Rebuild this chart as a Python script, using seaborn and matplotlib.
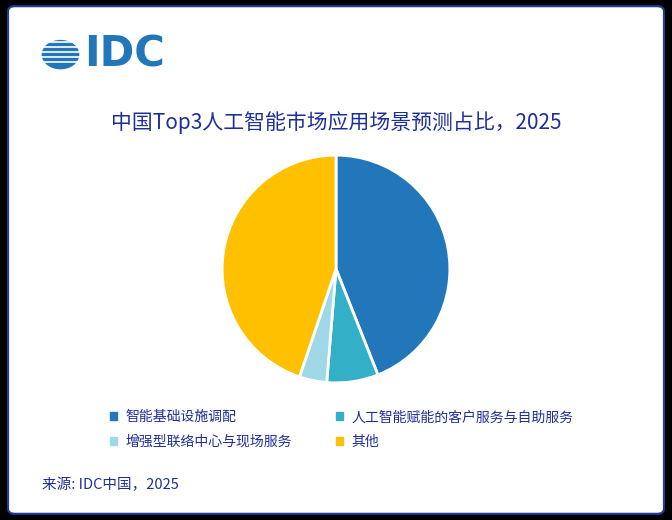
import matplotlib.pyplot as plt
import seaborn as sns
from matplotlib import font_manager as fm
from matplotlib.patches import FancyBboxPatch

cjk = [f.name for f in fm.fontManager.ttflist if "CJK" in f.name]
cjk_name = "Noto Sans CJK SC" if "Noto Sans CJK SC" in cjk else (cjk[0] if cjk else "DejaVu Sans")
sns.set_theme(style="white", font=cjk_name)
plt.rcParams["font.family"] = [cjk_name, "DejaVu Sans"]

categories = ["智能基础设施调配", "人工智能赋能的客户服务与自助服务",
              "增强型联络中心与现场服务", "其他"]
values = [44, 7.3, 3.9, 44.8]
colors = ["#2277bb", "#34afc8", "#9fd8e6", "#ffc000"]

fig = plt.figure(figsize=(6.72, 5.2), dpi=100)
fig.patch.set_facecolor("black")
bg = FancyBboxPatch((0.012, 0.012), 0.976, 0.976,
                    boxstyle="round,pad=0,rounding_size=0.01",
                    transform=fig.transFigure, facecolor="white",
                    edgecolor="#1f3fa0", linewidth=1.5, zorder=-10)
fig.patches.append(bg)

ax = fig.add_axes([336/672 - 115/672, 1 - (269 + 115)/520, 230/672, 230/520])
ax.pie(values, colors=colors, startangle=90, counterclock=False,
       wedgeprops=dict(edgecolor="white", linewidth=2))
ax.set_xlim(-1.01, 1.01)
ax.set_ylim(-1.01, 1.01)
ax.set_aspect("equal")

# IDC logo
fig.text(0.125, 0.895, "IDC", fontsize=30, fontweight="bold", color="#2277bb",
         family="DejaVu Sans", va="center", ha="left")
lx, ly = 0.09, 0.895
fig.add_artist(plt.Circle((lx, ly), 0.027, transform=fig.transFigure,
                          color="#2277bb"))
for dy in (-0.02, -0.01, 0, 0.01, 0.02):
    fig.add_artist(plt.Line2D([lx - 0.03, lx + 0.03], [ly + dy + 0.005] * 2,
                              transform=fig.transFigure, color="white", lw=1.2))

fig.text(0.5, 0.765, "中国Top3人工智能市场应用场景预测占比，2025",
         ha="center", va="center", fontsize=15, color="#1f2f9a")

order = [0, 2, 1, 3]
handles = [plt.Rectangle((0, 0), 1, 1, color=colors[i]) for i in order]
fig.legend(handles, [categories[i] for i in order], loc="upper left",
           bbox_to_anchor=(0.145, 0.235), ncol=2, frameon=False, fontsize=10,
           handlelength=0.5, handleheight=0.5, columnspacing=3.2,
           labelcolor="#1f2f9a", handletextpad=0.6, labelspacing=0.75)

fig.text(0.063, 0.068, "来源: IDC中国，2025", fontsize=10.5, color="#1f2f9a",
         va="center")

fig.savefig("out.png", dpi=100, facecolor=fig.get_facecolor())
